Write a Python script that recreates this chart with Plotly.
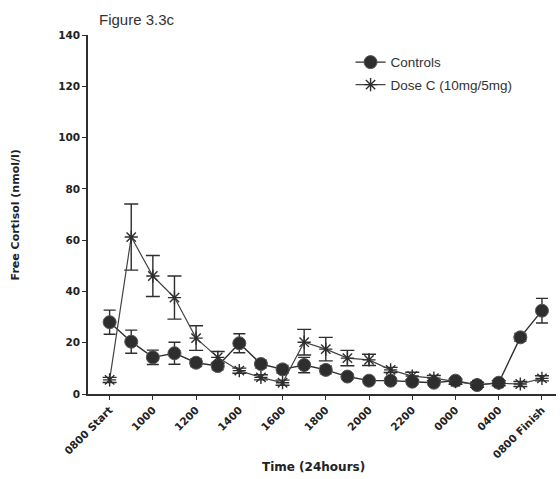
import plotly.graph_objects as go

times = ["0800 Start", "0900", "1000", "1100", "1200", "1300", "1400", "1500",
         "1600", "1700", "1800", "1900", "2000", "2100", "2200", "2300",
         "0000", "0200", "0400", "0600", "0800 Finish"]
tick_labels = ["0800 Start", "1000", "1200", "1400", "1600", "1800", "2000",
               "2200", "0000", "0400", "0800 Finish"]

controls = [28.0, 20.4, 14.3, 15.9, 12.2, 10.9, 19.8, 11.7, 9.6, 11.3, 9.4,
            6.8, 5.2, 5.2, 4.8, 4.4, 5.2, 3.5, 4.4, 22.1, 32.5]
controls_err = [4.7, 4.5, 2.8, 4.3, 1.5, 1.5, 3.7, 1.5, 1.5, 3.0, 1.5,
                1.0, 1.0, 1.0, 1.0, 1.0, 1.0, 1.0, 1.0, 1.5, 4.8]

dose_c = [5.5, 61.2, 46.0, 37.6, 21.8, 14.3, 9.1, 6.5, 4.4, 20.2, 17.5,
          14.0, 13.3, 9.4, 7.0, 6.2, 4.8, 3.6, 4.2, 3.9, 6.1]
dose_c_err = [1.0, 12.9, 8.0, 8.4, 4.8, 2.3, 1.0, 1.0, 1.0, 5.0, 4.6,
              3.0, 2.2, 1.0, 1.5, 1.0, 1.0, 1.0, 1.0, 1.0, 1.0]

ink = "#2e2e2e"
bold_font = "DejaVu Sans, Arial, sans-serif"
plain_font = "Liberation Sans, Arial, sans-serif"

fig = go.Figure()
fig.add_trace(go.Scatter(
    x=times, y=controls, name="Controls", mode="lines+markers",
    legendgroup="a",
    line=dict(color=ink, width=1.4),
    marker=dict(symbol="circle", size=13, color=ink, line=dict(color="#555", width=1)),
    error_y=dict(type="data", array=controls_err, color=ink, thickness=1.4, width=6),
))
fig.add_trace(go.Scatter(
    x=times, y=dose_c, name="Dose C (10mg/5mg)", mode="lines+markers",
    legendgroup="b",
    line=dict(color="#444", width=1.2),
    marker=dict(symbol="asterisk-open", size=11, color=ink, line=dict(color=ink, width=1.4)),
    error_y=dict(type="data", array=dose_c_err, color=ink, thickness=1.4, width=7),
))

fig.update_layout(
    width=560, height=479,
    margin=dict(l=88, r=4, t=35, b=85),
    paper_bgcolor="white", plot_bgcolor="white",
    font=dict(family=plain_font, color="#222"),
    showlegend=True,
    legend=dict(x=0.561, y=0.967, xanchor="left", yanchor="top",
                font=dict(size=13.5, color="#333", family=plain_font),
                bgcolor="rgba(0,0,0,0)", traceorder="grouped", tracegroupgap=2),
    xaxis=dict(
        type="category", categoryorder="array", categoryarray=times,
        range=[-1.0, 20.65],
        tickmode="array", tickvals=tick_labels, ticktext=tick_labels,
        tickangle=-45, ticks="outside", ticklen=4, tickcolor=ink, tickwidth=1.3,
        showline=True, linecolor=ink, linewidth=1.6,
        showgrid=False, zeroline=False,
        tickfont=dict(size=10.5, weight="bold", color="#222", family=bold_font),
    ),
    yaxis=dict(
        range=[0, 140], tickvals=[0, 20, 40, 60, 80, 100, 120, 140],
        ticks="outside", ticklen=4, tickcolor=ink, tickwidth=1.3,
        showline=True, linecolor=ink, linewidth=1.6,
        showgrid=False, zeroline=False,
        tickfont=dict(size=10.5, weight="bold", color="#222", family=bold_font),
    ),
)

fig.add_annotation(text="Figure 3.3c", xref="paper", yref="paper",
                   x=0.019, y=1.042, xanchor="left", yanchor="middle",
                   showarrow=False, font=dict(size=15, color="#333", family=plain_font))
fig.add_annotation(text="Free Cortisol (nmol/l)", xref="paper", yref="paper",
                   x=-0.154, y=0.5, textangle=-90, xanchor="center", yanchor="middle",
                   showarrow=False, font=dict(size=11, weight="bold", color="#222", family=bold_font))
fig.add_annotation(text="Time (24hours)", xref="paper", yref="paper",
                   x=0.481, y=-0.203, xanchor="center", yanchor="middle",
                   showarrow=False, font=dict(size=12, weight="bold", color="#222", family=bold_font))

fig.write_html("out.html")
